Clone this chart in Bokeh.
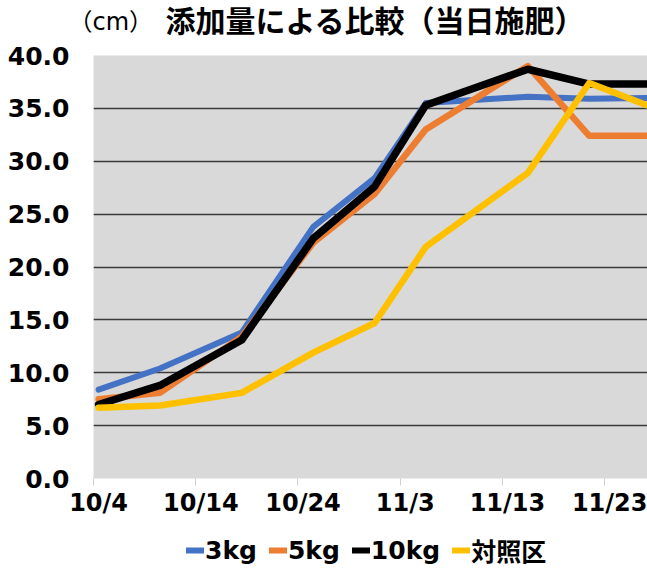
import pandas as pd
from bokeh.plotting import figure
from bokeh.layouts import column
from bokeh.models import Range1d, FixedTicker, Legend, LegendItem, NumeralTickFormatter
from bokeh.core.properties import value
from bokeh.embed import file_html
from bokeh.resources import INLINE

# ---- data ----
year = 2019
dates = ["10/4", "10/10", "10/18", "10/25", "10/31", "11/5", "11/15", "11/21", "11/28"]
tick_dates = ["10/4", "10/14", "10/24", "11/3", "11/13", "11/23"]
y_ticks = [0, 5, 10, 15, 20, 25, 30, 35, 40]
grid_ticks = [5, 10, 15, 20, 25, 30, 35, 40]
series_names = ["3kg", "5kg", "10kg", "対照区"]
s_3kg = [8.4, 10.4, 13.8, 23.8, 28.4, 35.5, 36.1, 35.9, 36.0]
s_5kg = [7.5, 8.1, 13.4, 22.3, 26.9, 33.0, 39.0, 32.4, 32.4]
s_10kg = [7.0, 8.8, 13.1, 22.7, 27.6, 35.3, 38.7, 37.3, 37.3]
s_ctrl = [6.7, 6.9, 8.1, 11.9, 14.7, 21.9, 28.9, 37.4, 34.8]
colors = ["#4472C4", "#ED7D31", "#000000", "#FFC000"]
title_text = "添加量による比較（当日施肥）"
unit_text = "（cm）"

start = pd.Timestamp(f"{year}/10/4")


def day(s):
    return (pd.Timestamp(f"{year}/{s}") - start).days


xs = [day(d) + 0.5 for d in dates]
series = [s_3kg, s_5kg, s_10kg, s_ctrl]
widths = [6, 6.5, 7.5, 6.5]
FONT_MIX = "DejaVu Sans, Noto Sans CJK JP"

# ---- header with title ----
W = 647
head = figure(width=W, height=40, output_backend="svg", toolbar_location=None,
              x_range=Range1d(0, W), y_range=Range1d(40, 0),
              min_border=0, x_axis_type=None, y_axis_type=None)
head.frame_align = False
head.outline_line_color = None
head.grid.visible = False
head.text(x=[165], y=[21], text=[title_text], text_font=value(FONT_MIX),
          text_font_style="bold", text_font_size="30px", text_baseline="middle",
          text_align="left", text_color="black")
head.text(x=[68], y=[21], text=[unit_text], text_font=value(FONT_MIX),
          text_font_size="24px", text_baseline="middle",
          text_align="left", text_color="black")

# ---- main chart ----
p = figure(width=W, height=479, output_backend="svg", toolbar_location=None,
           x_range=Range1d(0, 54.2), y_range=Range1d(0, 40),
           min_border_left=93, min_border_right=0, min_border_top=15, min_border_bottom=40)
p.outline_line_color = None
p.background_fill_color = "#d9d9d9"
p.border_fill_color = "white"

p.xaxis.ticker = FixedTicker(ticks=[day(t) + 0.5 for t in tick_dates],
                             minor_ticks=[day(t) for t in tick_dates])
p.xaxis.major_label_overrides = {day(t) + 0.5: t for t in tick_dates}
p.xaxis.axis_line_color = None
p.xaxis.major_tick_line_color = None
p.xaxis.major_tick_out = 7
p.xaxis.major_tick_in = 0
p.xaxis.minor_tick_line_color = "#cfcfcf"
p.xaxis.minor_tick_out = 7
p.xaxis.minor_tick_in = 0
p.xaxis.major_label_standoff = 3
p.xaxis.major_label_text_font_size = "24px"

p.yaxis.ticker = FixedTicker(ticks=y_ticks)
p.yaxis.formatter = NumeralTickFormatter(format="0.0")
p.yaxis.axis_line_color = None
p.yaxis.major_tick_line_color = None
p.yaxis.minor_tick_line_color = None
p.yaxis.major_tick_out = 0
p.yaxis.major_tick_in = 0
p.yaxis.major_label_standoff = 24
p.yaxis.major_label_text_font_size = "25px"

for ax in (p.xaxis, p.yaxis):
    ax.major_label_text_font = "DejaVu Sans"
    ax.major_label_text_font_style = "bold"
    ax.major_label_text_color = "black"

p.xgrid.visible = False
p.ygrid.ticker = FixedTicker(ticks=grid_ticks)
p.ygrid.grid_line_color = "#3a3a3a"
p.ygrid.grid_line_width = 1.3

for ys, c, w in zip(series, colors, widths):
    p.line(xs, ys, line_color=c, line_width=w, line_cap="round", line_join="round")

# ---- legend strip (proxy renderers lie outside its visible range) ----
leg = figure(width=W, height=50, output_backend="svg", toolbar_location=None,
             x_range=Range1d(-2, -1), y_range=Range1d(-2, -1),
             min_border=0, x_axis_type=None, y_axis_type=None)
leg.frame_align = False
leg.outline_line_color = None
leg.grid.visible = False
items = []
for name, ys, c in zip(series_names, series, colors):
    r = leg.line(xs, ys, line_color=c, line_width=6, line_cap="round")
    items.append(LegendItem(label=name, renderers=[r]))
legend = Legend(items=items, orientation="horizontal", location=(186, 1),
                label_text_font=FONT_MIX, label_text_font_style="bold",
                label_text_font_size="25px", label_text_color="black",
                glyph_width=18, glyph_height=24, label_standoff=1, spacing=12,
                padding=0, margin=0, border_line_color=None, background_fill_alpha=0)
leg.add_layout(legend)

layout = column(head, p, leg, spacing=0)
open("out.html", "w").write(file_html(layout, INLINE))
